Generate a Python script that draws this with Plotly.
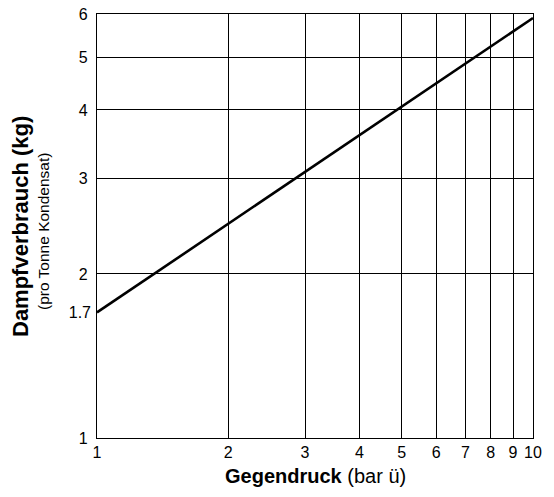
import math
import plotly.graph_objects as go

# Data
pressure_bar = [1, 10]
steam_kg = [1.7, 5.9]

x_tickvals = [1, 2, 3, 4, 5, 6, 7, 8, 9, 10]
x_ticktext = ["1", "2", "3", "4", "5", "6", "7", "8", "9", "10"]
y_gridvals = [1, 2, 3, 4, 5, 6]
y_gridtext = ["1", "2", "3", "4", "5", "6"]
y_extra_vals = [1.7]
y_extra_text = ["1.7"]

FONT = "Liberation Sans, Arial, Helvetica, sans-serif"

fig = go.Figure()
fig.add_trace(go.Scatter(x=pressure_bar, y=steam_kg, mode="lines",
                         line=dict(color="black", width=2.6),
                         hoverinfo="skip", showlegend=False))
fig.add_trace(go.Scatter(x=pressure_bar, y=steam_kg, mode="lines", yaxis="y2",
                         line=dict(color="rgba(0,0,0,0)", width=0),
                         hoverinfo="skip", showlegend=False))

yr = [0, math.log10(6)]
xr = [0, 1]
TICKSIZE = 16

fig.update_layout(
    width=554, height=497,
    margin=dict(l=97, r=21, t=14, b=59, autoexpand=False),
    paper_bgcolor="white", plot_bgcolor="white",
    font=dict(family=FONT, color="black", size=TICKSIZE),
    xaxis=dict(type="log", range=xr, tickvals=x_tickvals, ticktext=x_ticktext,
               showgrid=True, gridcolor="black", gridwidth=1,
               showline=True, linecolor="black", linewidth=1.2, mirror=True,
               ticks="", zeroline=False, tickfont=dict(size=TICKSIZE),
               ticklabelstandoff=0),
    yaxis=dict(type="log", range=yr, tickvals=y_gridvals, ticktext=y_gridtext,
               showgrid=True, gridcolor="black", gridwidth=1,
               showline=True, linecolor="black", linewidth=1.2, mirror=True,
               ticks="", zeroline=False, tickfont=dict(size=TICKSIZE),
               ticklabelstandoff=5),
    yaxis2=dict(type="log", range=yr, overlaying="y", side="left",
                tickvals=y_extra_vals, ticktext=y_extra_text,
                showgrid=False, showline=False, ticks="", zeroline=False,
                tickfont=dict(size=TICKSIZE), ticklabelstandoff=5),
    annotations=[
        dict(text="<b>Gegendruck</b> (bar ü)", xref="paper", yref="paper",
             x=0.5, y=0, yshift=-38, xanchor="center", yanchor="middle",
             showarrow=False, font=dict(size=20)),
        dict(text="<b>Dampfverbrauch (kg)</b>", xref="paper", yref="paper",
             x=0, xshift=-77, y=0.5, yshift=-1, textangle=-90,
             xanchor="center", yanchor="middle",
             showarrow=False, font=dict(size=22)),
        dict(text="(pro Tonne Kondensat)", xref="paper", yref="paper",
             x=0, xshift=-54, y=0.5, yshift=-6, textangle=-90,
             xanchor="center", yanchor="middle",
             showarrow=False, font=dict(size=15.5)),
    ],
)

fig.write_html("out.html", config={"displayModeBar": False},
               post_script="document.body.style.margin='0';")
